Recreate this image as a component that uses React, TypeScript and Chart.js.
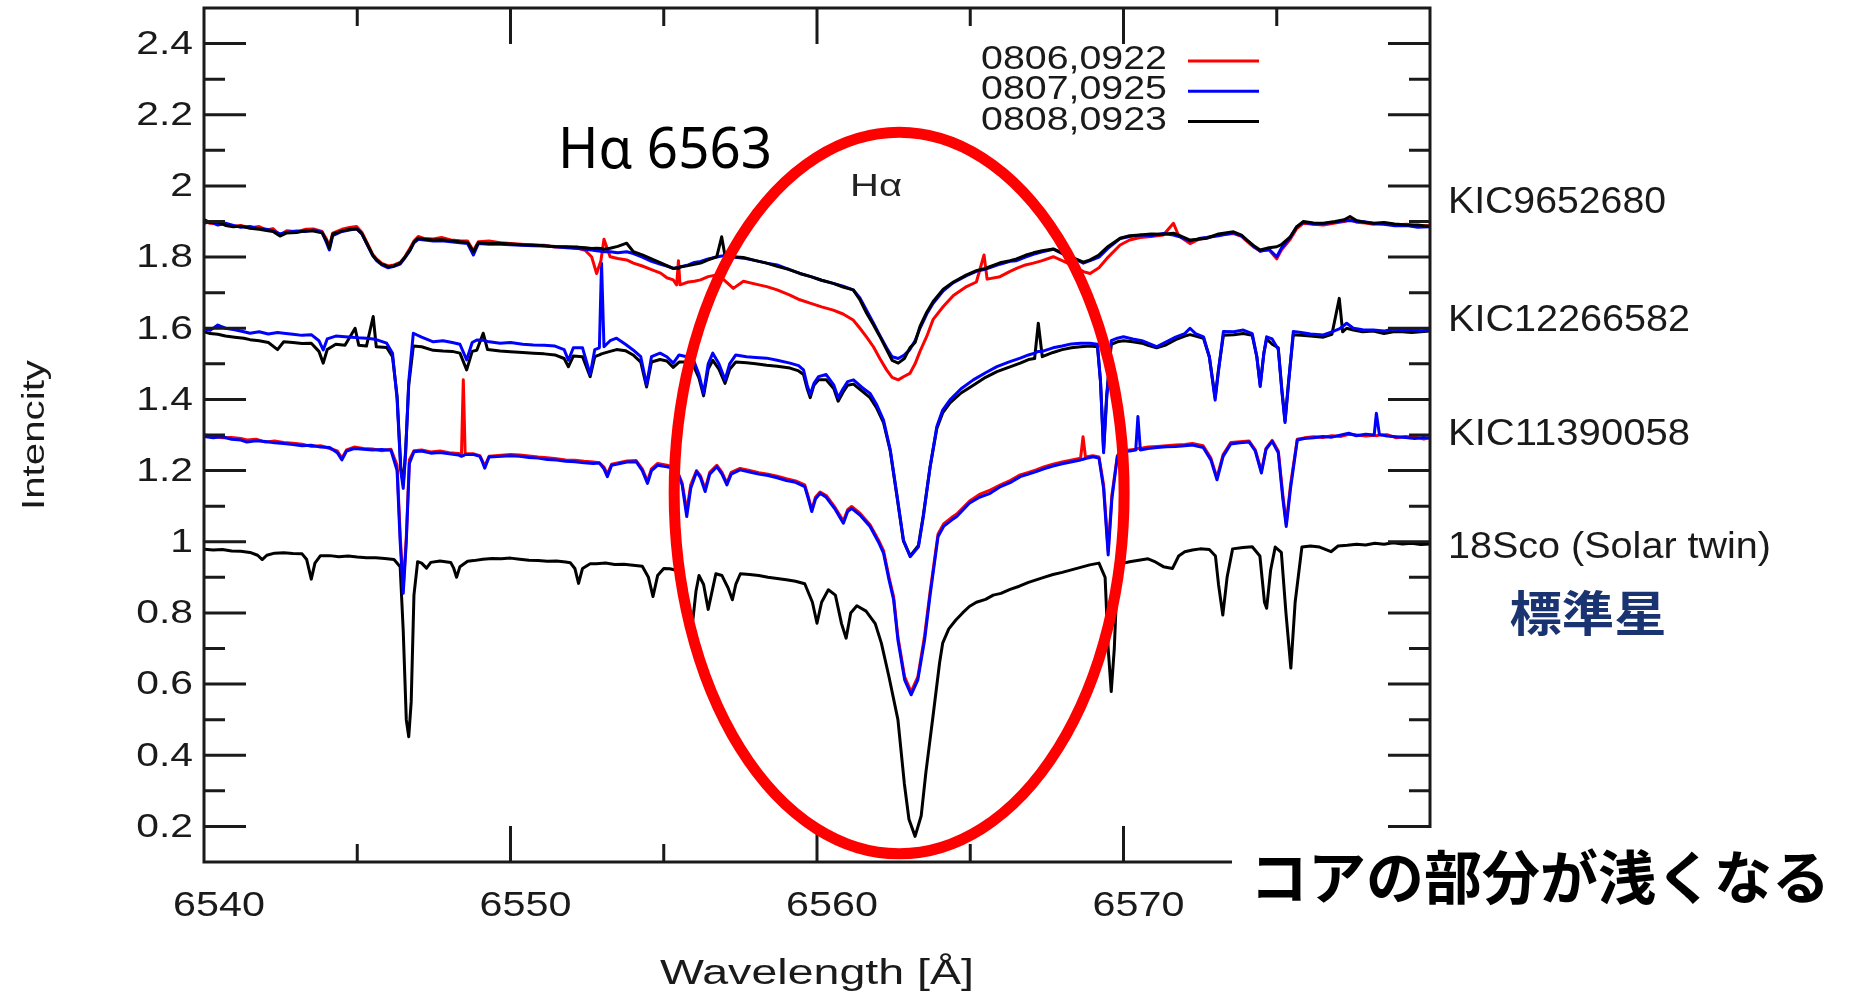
import React, { useEffect, useRef } from 'react';
import { Chart, registerables } from 'chart.js';

Chart.register(...registerables);

const CANVAS_W = 1849;
const CANVAS_H = 997;

// ---------------- data: KIC9652680 (three epochs) ----------------
const kic965Wave = [
  6540.0, 6540.2, 6540.45, 6540.7, 6540.96, 6541.2, 6541.5, 6541.8, 6542.04, 6542.25,
  6542.48, 6542.7, 6543.02, 6543.3, 6543.57, 6543.85, 6544.0, 6544.09, 6544.2, 6544.5,
  6544.75, 6544.98, 6545.15, 6545.31, 6545.5, 6545.63, 6545.8, 6546.01, 6546.2, 6546.4,
  6546.55, 6546.72, 6546.85, 6546.99, 6547.2, 6547.48, 6547.75, 6548.05, 6548.35, 6548.6,
  6548.79, 6548.95, 6549.3, 6549.66, 6550.0, 6550.35, 6550.75, 6551.1, 6551.45, 6551.83,
  6552.2, 6552.45, 6552.65, 6552.81, 6552.95, 6553.05, 6553.25, 6553.5, 6553.79, 6554.01,
  6554.3, 6554.6, 6554.9, 6555.1, 6555.31, 6555.42, 6555.48, 6555.53, 6555.8, 6556.0,
  6556.2, 6556.45, 6556.73, 6556.89, 6557.0, 6557.27, 6557.6, 6558.0, 6558.36, 6558.7,
  6559.1, 6559.44, 6559.8, 6560.15, 6560.53, 6560.85, 6561.18, 6561.4, 6561.62, 6561.84,
  6562.05, 6562.27, 6562.45, 6562.65, 6562.85, 6563.03, 6563.2, 6563.36, 6563.58, 6563.79,
  6564.12, 6564.45, 6564.88, 6565.2, 6565.45, 6565.55, 6565.97, 6566.3, 6566.51, 6566.8,
  6567.06, 6567.35, 6567.71, 6568.0, 6568.3, 6568.69, 6568.91, 6569.2, 6569.5, 6569.89,
  6570.2, 6570.54, 6570.9, 6571.3, 6571.63, 6571.8, 6572.17, 6572.45, 6572.72, 6573.1,
  6573.59, 6573.85, 6574.02, 6574.25, 6574.46, 6574.75, 6575.0, 6575.15, 6575.44, 6575.65,
  6575.87, 6576.2, 6576.52, 6576.9, 6577.2, 6577.39, 6577.6, 6577.9, 6578.15, 6578.5,
  6578.85, 6579.24, 6579.6, 6580.0,
];
const kic965Red = [
  1.900, 1.895, 1.893, 1.892, 1.887, 1.889, 1.882, 1.886, 1.876, 1.880,
  1.862, 1.874, 1.871, 1.878, 1.879, 1.872, 1.850, 1.830, 1.867, 1.878,
  1.883, 1.886, 1.870, 1.842, 1.808, 1.795, 1.782, 1.775, 1.778, 1.785,
  1.800, 1.825, 1.845, 1.858, 1.852, 1.851, 1.855, 1.848, 1.846, 1.845,
  1.818, 1.843, 1.845, 1.840, 1.838, 1.836, 1.834, 1.833, 1.828, 1.828,
  1.825, 1.818, 1.800, 1.754, 1.790, 1.850, 1.801, 1.796, 1.792, 1.783,
  1.775, 1.765, 1.755, 1.742, 1.736, 1.722, 1.790, 1.722, 1.730, 1.732,
  1.736, 1.745, 1.750, 1.742, 1.733, 1.712, 1.732, 1.724, 1.717, 1.708,
  1.694, 1.680, 1.670, 1.660, 1.651, 1.640, 1.623, 1.600, 1.575, 1.548,
  1.515, 1.483, 1.462, 1.455, 1.465, 1.473, 1.500, 1.535, 1.577, 1.625,
  1.661, 1.692, 1.717, 1.730, 1.806, 1.738, 1.745, 1.760, 1.768, 1.778,
  1.783, 1.790, 1.801, 1.790, 1.778, 1.759, 1.754, 1.770, 1.800, 1.834,
  1.848, 1.855, 1.858, 1.862, 1.895, 1.860, 1.838, 1.850, 1.855, 1.862,
  1.866, 1.858, 1.845, 1.828, 1.818, 1.820, 1.795, 1.820, 1.850, 1.880,
  1.895, 1.892, 1.890, 1.896, 1.900, 1.905, 1.898, 1.896, 1.892, 1.894,
  1.890, 1.892, 1.887, 1.889,
];
const kic965Blue = [
  1.895, 1.900, 1.890, 1.895, 1.889, 1.884, 1.886, 1.880, 1.878, 1.874,
  1.865, 1.870, 1.873, 1.872, 1.876, 1.870, 1.840, 1.820, 1.860, 1.872,
  1.876, 1.880, 1.865, 1.837, 1.805, 1.790, 1.778, 1.770, 1.774, 1.780,
  1.797, 1.818, 1.840, 1.850, 1.848, 1.845, 1.846, 1.843, 1.840, 1.838,
  1.806, 1.838, 1.836, 1.836, 1.835, 1.833, 1.832, 1.831, 1.829, 1.826,
  1.824, 1.822, 1.820, 1.818, 1.816, 1.815, 1.815, 1.812, 1.815, 1.810,
  1.800, 1.788, 1.780, 1.775, 1.768, 1.769, 1.770, 1.772, 1.778, 1.785,
  1.788, 1.795, 1.800, 1.803, 1.804, 1.800, 1.797, 1.790, 1.783, 1.778,
  1.765, 1.754, 1.745, 1.735, 1.726, 1.718, 1.708, 1.685, 1.650, 1.615,
  1.580, 1.545, 1.520, 1.515, 1.525, 1.540, 1.565, 1.600, 1.640, 1.670,
  1.705, 1.728, 1.748, 1.760, 1.765, 1.768, 1.780, 1.788, 1.790, 1.800,
  1.808, 1.815, 1.822, 1.810, 1.800, 1.783, 1.790, 1.800, 1.825, 1.852,
  1.858, 1.862, 1.860, 1.866, 1.862, 1.858, 1.845, 1.852, 1.855, 1.860,
  1.868, 1.860, 1.848, 1.830, 1.816, 1.822, 1.801, 1.825, 1.855, 1.885,
  1.898, 1.893, 1.894, 1.898, 1.902, 1.903, 1.900, 1.899, 1.895, 1.892,
  1.888, 1.889, 1.884, 1.885,
];
const kic965Black = [
  1.905, 1.897, 1.899, 1.889, 1.885, 1.887, 1.881, 1.878, 1.875, 1.872,
  1.859, 1.868, 1.869, 1.874, 1.873, 1.868, 1.845, 1.825, 1.865, 1.873,
  1.878, 1.879, 1.866, 1.839, 1.806, 1.792, 1.780, 1.773, 1.775, 1.783,
  1.799, 1.820, 1.842, 1.853, 1.850, 1.848, 1.849, 1.846, 1.843, 1.841,
  1.815, 1.840, 1.838, 1.839, 1.837, 1.835, 1.834, 1.832, 1.830, 1.829,
  1.828, 1.826, 1.824, 1.825, 1.824, 1.822, 1.825, 1.830, 1.839, 1.815,
  1.806, 1.795, 1.784, 1.776, 1.768, 1.770, 1.768, 1.772, 1.776, 1.780,
  1.783, 1.792, 1.801, 1.857, 1.803, 1.801, 1.799, 1.790, 1.783, 1.774,
  1.765, 1.754, 1.745, 1.735, 1.726, 1.716, 1.708, 1.680, 1.642, 1.610,
  1.577, 1.540, 1.510, 1.502, 1.515, 1.545, 1.560, 1.605, 1.645, 1.675,
  1.710, 1.730, 1.750, 1.762, 1.767, 1.770, 1.784, 1.790, 1.795, 1.805,
  1.812, 1.818, 1.823, 1.812, 1.800, 1.786, 1.792, 1.806, 1.830, 1.853,
  1.860, 1.862, 1.865, 1.864, 1.867, 1.862, 1.848, 1.850, 1.853, 1.865,
  1.871, 1.862, 1.848, 1.832, 1.820, 1.826, 1.829, 1.835, 1.857, 1.885,
  1.900, 1.896, 1.895, 1.900, 1.905, 1.914, 1.903, 1.897, 1.895, 1.897,
  1.893, 1.890, 1.890, 1.886,
];

// ---------------- data: KIC12266582 ----------------
const kic122Wave = [
  6540.0, 6540.2, 6540.45, 6540.7, 6541.0, 6541.3, 6541.5, 6541.8, 6542.1, 6542.4,
  6542.6, 6542.9, 6543.2, 6543.5, 6543.75, 6543.89, 6544.02, 6544.3, 6544.6, 6544.93,
  6545.05, 6545.3, 6545.52, 6545.62, 6545.96, 6546.15, 6546.3, 6546.42, 6546.5, 6546.58,
  6546.68, 6546.83, 6547.1, 6547.48, 6547.8, 6548.1, 6548.35, 6548.57, 6548.75, 6548.9,
  6549.11, 6549.25, 6549.66, 6550.0, 6550.4, 6550.75, 6551.1, 6551.45, 6551.75, 6551.89,
  6552.05, 6552.35, 6552.6, 6552.75, 6552.9, 6552.97, 6553.05, 6553.25, 6553.46, 6553.75,
  6554.0, 6554.25, 6554.44, 6554.6, 6554.88, 6555.1, 6555.31, 6555.5, 6555.75, 6555.97,
  6556.15, 6556.3, 6556.45, 6556.6, 6556.8, 6557.0, 6557.15, 6557.35, 6557.7, 6558.0,
  6558.36, 6558.7, 6559.12, 6559.4, 6559.56, 6559.68, 6559.78, 6559.9, 6560.05, 6560.3,
  6560.55, 6560.69, 6560.85, 6561.0, 6561.19, 6561.45, 6561.73, 6561.95, 6562.17, 6562.39,
  6562.6, 6562.82, 6563.04, 6563.31, 6563.47, 6563.69, 6563.91, 6564.1, 6564.34, 6564.7,
  6565.1, 6565.5, 6565.87, 6566.25, 6566.63, 6566.9, 6567.1, 6567.22, 6567.35, 6567.7,
  6568.0, 6568.3, 6568.6, 6568.91, 6569.15, 6569.25, 6569.35, 6569.45, 6569.6, 6569.8,
  6570.0, 6570.3, 6570.6, 6570.8, 6571.08, 6571.35, 6571.7, 6572.0, 6572.17, 6572.35,
  6572.61, 6572.8, 6572.99, 6573.1, 6573.26, 6573.6, 6573.91, 6574.2, 6574.35, 6574.46,
  6574.58, 6574.67, 6574.85, 6575.05, 6575.17, 6575.27, 6575.38, 6575.54, 6575.8, 6576.1,
  6576.52, 6576.8, 6577.04, 6577.15, 6577.28, 6577.5, 6577.8, 6578.15, 6578.5, 6578.8,
  6579.1, 6579.4, 6579.7, 6580.0,
];
const kic122Blue = [
  1.598, 1.594, 1.609, 1.600, 1.596, 1.590, 1.586, 1.590, 1.584, 1.588,
  1.586, 1.583, 1.580, 1.582, 1.565, 1.539, 1.570, 1.578, 1.576, 1.574,
  1.573, 1.572, 1.570, 1.568, 1.558, 1.530, 1.400, 1.200, 1.150, 1.250,
  1.450, 1.586, 1.575, 1.562, 1.565, 1.560, 1.555, 1.511, 1.560, 1.567,
  1.566, 1.563, 1.558, 1.560, 1.555, 1.553, 1.552, 1.550, 1.540, 1.510,
  1.545, 1.545, 1.470, 1.540, 1.545, 1.783, 1.548, 1.565, 1.572, 1.555,
  1.539, 1.520, 1.441, 1.520, 1.530, 1.520, 1.502, 1.525, 1.520, 1.511,
  1.470, 1.417, 1.500, 1.530, 1.500, 1.455, 1.500, 1.525, 1.520, 1.518,
  1.516, 1.510, 1.502, 1.495, 1.483, 1.440, 1.413, 1.445, 1.464, 1.470,
  1.440, 1.405, 1.430, 1.450, 1.455, 1.435, 1.417, 1.385, 1.342, 1.258,
  1.136, 1.005, 0.958, 0.986, 1.071, 1.211, 1.324, 1.370, 1.399, 1.430,
  1.455, 1.475, 1.492, 1.505, 1.516, 1.525, 1.530, 1.535, 1.535, 1.545,
  1.550, 1.556, 1.558, 1.558, 1.555, 1.450, 1.250, 1.400, 1.565, 1.572,
  1.576, 1.570, 1.565, 1.558, 1.548, 1.560, 1.575, 1.585, 1.600, 1.585,
  1.576, 1.520, 1.398, 1.480, 1.591, 1.590, 1.595, 1.585, 1.520, 1.436,
  1.530, 1.576, 1.570, 1.540, 1.420, 1.335, 1.440, 1.591, 1.588, 1.584,
  1.581, 1.590, 1.598, 1.605, 1.614, 1.600, 1.596, 1.595, 1.592, 1.598,
  1.594, 1.597, 1.592, 1.595,
];
const kic122Black = [
  1.590, 1.585, 1.583, 1.578, 1.575, 1.572, 1.568, 1.565, 1.560, 1.540,
  1.562, 1.560, 1.557, 1.558, 1.535, 1.502, 1.540, 1.555, 1.552, 1.600,
  1.552, 1.550, 1.633, 1.548, 1.546, 1.520, 1.410, 1.210, 1.160, 1.260,
  1.440, 1.550, 1.548, 1.538, 1.536, 1.535, 1.530, 1.483, 1.535, 1.538,
  1.586, 1.540, 1.536, 1.534, 1.532, 1.530, 1.528, 1.525, 1.515, 1.492,
  1.522, 1.520, 1.464, 1.520, 1.525, 1.528, 1.530, 1.535, 1.540, 1.537,
  1.525, 1.505, 1.435, 1.505, 1.512, 1.508, 1.490, 1.505, 1.505, 1.495,
  1.460, 1.410, 1.485, 1.510, 1.485, 1.445, 1.485, 1.505, 1.503, 1.500,
  1.496, 1.493, 1.488, 1.480, 1.470, 1.430, 1.405, 1.440, 1.455, 1.455,
  1.430, 1.395, 1.420, 1.440, 1.443, 1.425, 1.405, 1.375, 1.335, 1.255,
  1.133, 1.002, 0.960, 0.990, 1.075, 1.210, 1.318, 1.362, 1.390, 1.418,
  1.440, 1.462, 1.478, 1.490, 1.502, 1.512, 1.515, 1.614, 1.520, 1.532,
  1.540, 1.545, 1.548, 1.550, 1.548, 1.450, 1.260, 1.410, 1.555, 1.562,
  1.565, 1.562, 1.558, 1.552, 1.545, 1.552, 1.568, 1.578, 1.582, 1.578,
  1.572, 1.520, 1.405, 1.485, 1.580, 1.582, 1.585, 1.580, 1.520, 1.440,
  1.530, 1.570, 1.555, 1.545, 1.425, 1.340, 1.445, 1.582, 1.580, 1.578,
  1.575, 1.583, 1.684, 1.590, 1.600, 1.595, 1.590, 1.592, 1.585, 1.590,
  1.590, 1.588, 1.590, 1.592,
];

// ---------------- data: KIC11390058 ----------------
const kic113Wave = [
  6540.0, 6540.3, 6540.6, 6540.9, 6541.2, 6541.4, 6541.7, 6542.0, 6542.3, 6542.6,
  6542.9, 6543.2, 6543.5, 6543.8, 6544.1, 6544.35, 6544.5, 6544.65, 6544.9, 6545.2,
  6545.5, 6545.8, 6546.1, 6546.3, 6546.4, 6546.5, 6546.6, 6546.7, 6546.85, 6547.1,
  6547.4, 6547.7, 6548.0, 6548.3, 6548.4, 6548.46, 6548.52, 6548.8, 6549.0, 6549.08,
  6549.16, 6549.3, 6550.0, 6550.3, 6550.6, 6550.9, 6551.2, 6551.5, 6551.8, 6552.1,
  6552.4, 6552.7, 6552.9, 6553.05, 6553.16, 6553.3, 6553.8, 6554.1, 6554.3, 6554.47,
  6554.6, 6554.8, 6555.1, 6555.4, 6555.6, 6555.75, 6555.88, 6556.07, 6556.2, 6556.35,
  6556.5, 6556.73, 6556.9, 6557.06, 6557.2, 6557.49, 6557.8, 6558.1, 6558.4, 6558.7,
  6559.0, 6559.3, 6559.6, 6559.72, 6559.83, 6559.95, 6560.1, 6560.3, 6560.6, 6560.86,
  6561.0, 6561.13, 6561.4, 6561.73, 6562.0, 6562.17, 6562.35, 6562.5, 6562.64, 6562.86,
  6563.07, 6563.29, 6563.51, 6563.69, 6563.95, 6564.13, 6564.39, 6564.56, 6564.97, 6565.3,
  6565.65, 6565.99, 6566.3, 6566.63, 6566.9, 6567.15, 6567.4, 6567.7, 6568.0, 6568.32,
  6568.6, 6568.68, 6568.76, 6569.0, 6569.2, 6569.35, 6569.5, 6569.62, 6569.8, 6569.92,
  6570.2, 6570.4, 6570.47, 6570.55, 6570.8, 6571.1, 6571.4, 6571.7, 6572.0, 6572.25,
  6572.6, 6572.85, 6573.05, 6573.25, 6573.5, 6573.8, 6574.1, 6574.3, 6574.5, 6574.65,
  6574.85, 6575.05, 6575.2, 6575.31, 6575.45, 6575.67, 6575.9, 6576.2, 6576.5, 6576.8,
  6577.1, 6577.35, 6577.6, 6577.9, 6578.18, 6578.25, 6578.35, 6578.6, 6578.9, 6579.2,
  6579.5, 6579.8, 6580.0,
];
const kic113Blue = [
  1.296, 1.292, 1.295, 1.288, 1.286, 1.280, 1.284, 1.282, 1.278, 1.276,
  1.273, 1.270, 1.271, 1.266, 1.265, 1.250, 1.230, 1.255, 1.262, 1.260,
  1.258, 1.259, 1.257, 1.200, 1.000, 0.855, 1.000, 1.220, 1.253, 1.255,
  1.249, 1.251, 1.247, 1.244, 1.240, 1.242, 1.245, 1.245, 1.240, 1.225,
  1.207, 1.238, 1.242, 1.240, 1.237, 1.235, 1.231, 1.230, 1.226, 1.225,
  1.222, 1.220, 1.221, 1.205, 1.183, 1.215, 1.224, 1.225, 1.200, 1.164,
  1.200, 1.215, 1.211, 1.205, 1.160, 1.071, 1.150, 1.197, 1.180, 1.141,
  1.190, 1.211, 1.190, 1.160, 1.190, 1.202, 1.196, 1.190, 1.186, 1.180,
  1.172, 1.167, 1.155, 1.120, 1.085, 1.120, 1.136, 1.125, 1.090, 1.052,
  1.085, 1.094, 1.075, 1.043, 1.000, 0.968, 0.893, 0.837, 0.724, 0.612,
  0.570, 0.612, 0.724, 0.850, 1.015, 1.043, 1.061, 1.071, 1.108, 1.125,
  1.136, 1.155, 1.166, 1.183, 1.190, 1.197, 1.205, 1.213, 1.219, 1.225,
  1.230, 1.232, 1.234, 1.239, 1.235, 1.150, 0.963, 1.120, 1.240, 1.253,
  1.255, 1.258, 1.352, 1.258, 1.262, 1.265, 1.267, 1.268, 1.270, 1.272,
  1.265, 1.230, 1.174, 1.240, 1.275, 1.278, 1.280, 1.255, 1.193, 1.260,
  1.282, 1.250, 1.120, 1.043, 1.150, 1.286, 1.290, 1.292, 1.296, 1.294,
  1.300, 1.305, 1.298, 1.302, 1.300, 1.361, 1.301, 1.297, 1.295, 1.293,
  1.290, 1.293, 1.291,
];
const kic113Red = [
  1.300, 1.297, 1.292, 1.293, 1.290, 1.286, 1.288, 1.280, 1.283, 1.279,
  1.277, 1.274, 1.268, 1.270, 1.262, 1.255, 1.235, 1.258, 1.266, 1.262,
  1.261, 1.256, 1.260, 1.215, 1.020, 0.870, 1.010, 1.230, 1.256, 1.258,
  1.252, 1.255, 1.250, 1.248, 1.246, 1.455, 1.248, 1.247, 1.242, 1.228,
  1.212, 1.240, 1.245, 1.244, 1.241, 1.238, 1.236, 1.233, 1.230, 1.229,
  1.226, 1.224, 1.222, 1.210, 1.190, 1.218, 1.227, 1.228, 1.205, 1.170,
  1.205, 1.220, 1.215, 1.208, 1.165, 1.085, 1.160, 1.200, 1.185, 1.148,
  1.195, 1.215, 1.195, 1.165, 1.195, 1.206, 1.200, 1.194, 1.190, 1.184,
  1.177, 1.171, 1.160, 1.125, 1.090, 1.125, 1.140, 1.130, 1.095, 1.058,
  1.090, 1.099, 1.080, 1.048, 1.006, 0.975, 0.900, 0.845, 0.732, 0.620,
  0.578, 0.620, 0.735, 0.860, 1.022, 1.050, 1.068, 1.078, 1.114, 1.133,
  1.145, 1.160, 1.172, 1.188, 1.195, 1.202, 1.210, 1.218, 1.224, 1.230,
  1.235, 1.295, 1.238, 1.242, 1.238, 1.160, 0.975, 1.130, 1.242, 1.255,
  1.258, 1.260, 1.262, 1.262, 1.266, 1.268, 1.270, 1.272, 1.273, 1.276,
  1.270, 1.235, 1.180, 1.245, 1.279, 1.281, 1.283, 1.258, 1.198, 1.262,
  1.285, 1.255, 1.130, 1.050, 1.160, 1.288, 1.292, 1.295, 1.293, 1.298,
  1.296, 1.302, 1.300, 1.297, 1.299, 1.298, 1.300, 1.301, 1.292, 1.296,
  1.294, 1.289, 1.293,
];

// ---------------- data: 18Sco (solar twin) ----------------
const sco18Wave = [
  6540.0, 6540.3, 6540.6, 6540.9, 6541.2, 6541.5, 6541.75, 6541.9, 6542.05, 6542.3,
  6542.6, 6542.9, 6543.2, 6543.35, 6543.5, 6543.62, 6543.8, 6544.1, 6544.4, 6544.7,
  6545.0, 6545.3, 6545.6, 6545.9, 6546.2, 6546.4, 6546.5, 6546.6, 6546.68, 6546.76,
  6546.85, 6546.97, 6547.1, 6547.26, 6547.4, 6547.7, 6548.05, 6548.15, 6548.24, 6548.35,
  6548.6, 6548.8, 6549.1, 6549.4, 6549.7, 6550.0, 6550.3, 6550.6, 6550.9, 6551.2,
  6551.5, 6551.8, 6551.95, 6552.1, 6552.22, 6552.35, 6552.6, 6552.8, 6553.1, 6553.4,
  6553.7, 6554.0, 6554.3, 6554.5, 6554.65, 6554.8, 6555.0, 6555.2, 6555.5, 6555.7,
  6555.85, 6555.95, 6556.05, 6556.15, 6556.3, 6556.45, 6556.55, 6556.7, 6556.9, 6557.1,
  6557.24, 6557.35, 6557.5, 6557.8, 6558.1, 6558.4, 6558.7, 6559.0, 6559.3, 6559.6,
  6559.85, 6560.0, 6560.15, 6560.37, 6560.6, 6560.8, 6560.95, 6561.1, 6561.3, 6561.6,
  6561.9, 6562.1, 6562.35, 6562.64, 6562.85, 6563.0, 6563.2, 6563.4, 6563.55, 6563.8,
  6564.0, 6564.1, 6564.3, 6564.53, 6564.75, 6564.97, 6565.2, 6565.5, 6565.75, 6566.0,
  6566.3, 6566.6, 6566.9, 6567.15, 6567.4, 6567.7, 6568.0, 6568.3, 6568.6, 6568.9,
  6569.2, 6569.4, 6569.5, 6569.6, 6569.7, 6569.8, 6570.0, 6570.2, 6570.5, 6570.8,
  6571.0, 6571.3, 6571.6, 6571.8, 6572.0, 6572.25, 6572.5, 6572.8, 6573.0, 6573.1,
  6573.24, 6573.38, 6573.56, 6573.9, 6574.2, 6574.45, 6574.6, 6574.67, 6574.8, 6574.95,
  6575.15, 6575.3, 6575.46, 6575.6, 6575.82, 6576.1, 6576.4, 6576.77, 6577.0, 6577.3,
  6577.6, 6577.9, 6578.2, 6578.5, 6578.8, 6579.1, 6579.4, 6579.7, 6580.0,
];
const sco18Black = [
  0.979, 0.977, 0.978, 0.974, 0.973, 0.970, 0.962, 0.950, 0.962, 0.968,
  0.969, 0.967, 0.966, 0.950, 0.895, 0.940, 0.961, 0.961, 0.958, 0.960,
  0.957, 0.955, 0.955, 0.953, 0.950, 0.930, 0.750, 0.500, 0.452, 0.550,
  0.850, 0.944, 0.940, 0.926, 0.942, 0.946, 0.942, 0.925, 0.900, 0.930,
  0.945, 0.947, 0.951, 0.953, 0.952, 0.954, 0.951, 0.948, 0.947, 0.945,
  0.946, 0.943, 0.941, 0.925, 0.883, 0.925, 0.938, 0.938, 0.940, 0.936,
  0.937, 0.934, 0.931, 0.900, 0.846, 0.905, 0.925, 0.924, 0.918, 0.880,
  0.790, 0.780, 0.860, 0.905, 0.880, 0.810, 0.850, 0.910, 0.905, 0.870,
  0.837, 0.880, 0.910, 0.908, 0.905, 0.900, 0.897, 0.893, 0.889, 0.882,
  0.830, 0.771, 0.830, 0.865, 0.850, 0.770, 0.729, 0.800, 0.820, 0.805,
  0.770, 0.715, 0.620, 0.500, 0.320, 0.220, 0.172, 0.230, 0.350, 0.520,
  0.660, 0.715, 0.755, 0.780, 0.800, 0.818, 0.830, 0.838, 0.850, 0.855,
  0.866, 0.875, 0.886, 0.893, 0.900, 0.908, 0.914, 0.921, 0.928, 0.935,
  0.940, 0.900, 0.700, 0.579, 0.700, 0.910, 0.940, 0.944, 0.948, 0.952,
  0.945, 0.930, 0.925, 0.960, 0.972, 0.977, 0.980, 0.978, 0.960, 0.880,
  0.794, 0.900, 0.980, 0.984, 0.986, 0.960, 0.830, 0.813, 0.920, 0.985,
  0.970, 0.800, 0.645, 0.830, 0.985, 0.988, 0.985, 0.972, 0.988, 0.990,
  0.993, 0.991, 0.996, 0.993, 0.997, 0.994, 0.996, 0.992, 0.994,
];

// ---------------- ticks & text ----------------
const xTickValues = [6540, 6550, 6560, 6570];
const xMinorValues = [6545, 6555, 6565, 6575];
const yTickValues = [0.2, 0.4, 0.6, 0.8, 1, 1.2, 1.4, 1.6, 1.8, 2, 2.2, 2.4];
const yMinorValues = [0.3, 0.5, 0.7, 0.9, 1.1, 1.3, 1.5, 1.7, 1.9, 2.1, 2.3];
const legendLabels = ['0806,0922', '0807,0925', '0808,0923'];
const starNames = ['KIC9652680', 'KIC12266582', 'KIC11390058', '18Sco (Solar twin)'];
const xTitle = 'Wavelength [Å]';
const yTitle = 'Intencity';
const haMarkText = 'Hα 6563';
const haLabelText = 'Hα';
const refStarText = '標準星';
const noteText = 'コアの部分が浅くなる';

// annotation ellipse around H-alpha, in data units
const haEllipse = { cx: 6562.68, cy: 1.137, rx: 7.34, ry: 1.014 };

// ---------------- styles / layout ----------------
const RED = '#ff0000';
const BLUE = '#0000ff';
const BLACK = '#000000';
const INK = '#1a1a1a';
const NAVY = '#1a3472';
const SANS = '"Liberation Sans", Arial, Helvetica, sans-serif';
const AREA = { left: 204, right: 1430, top: 8, bottom: 862 };
const LEGEND_COLORS = [RED, BLUE, BLACK];
const STAR_LABEL_Y = [203, 321, 435, 548];
const STAR_LABEL_W = [218, 242, 242, 323];
const SERIES_LINE_WIDTH = 3;

function textAt(
  ctx: CanvasRenderingContext2D,
  text: string,
  x: number,
  y: number,
  font: string,
  color: string,
  align: CanvasTextAlign,
  sx: number,
  width?: number,
  rot = 0
) {
  ctx.save();
  ctx.font = font;
  ctx.fillStyle = color;
  ctx.textBaseline = 'middle';
  ctx.textAlign = align;
  let s = sx;
  if (width) s = width / ctx.measureText(text).width;
  ctx.translate(x, y);
  if (rot) ctx.rotate(rot);
  ctx.scale(s, 1);
  ctx.fillText(text, 0, 0);
  ctx.restore();
}

const decorPlugin = {
  id: 'decor',
  beforeDraw(chart: any) {
    const ctx = chart.ctx as CanvasRenderingContext2D;
    ctx.save();
    ctx.fillStyle = '#ffffff';
    ctx.fillRect(0, 0, chart.width, chart.height);
    ctx.restore();
  },
  afterDatasetsDraw(chart: any) {
    const ctx = chart.ctx as CanvasRenderingContext2D;
    const a = chart.chartArea;
    const xs = chart.scales.x;
    const ys = chart.scales.y;

    // frame + ticks
    ctx.save();
    ctx.strokeStyle = INK;
    ctx.lineWidth = 3;
    ctx.strokeRect(a.left, a.top, a.right - a.left, a.bottom - a.top);
    ctx.beginPath();
    yTickValues.forEach((v) => {
      const p = ys.getPixelForValue(v);
      ctx.moveTo(a.left, p); ctx.lineTo(a.left + 42, p);
      ctx.moveTo(a.right - 42, p); ctx.lineTo(a.right, p);
    });
    yMinorValues.forEach((v) => {
      const p = ys.getPixelForValue(v);
      ctx.moveTo(a.left, p); ctx.lineTo(a.left + 21, p);
      ctx.moveTo(a.right - 21, p); ctx.lineTo(a.right, p);
    });
    xTickValues.forEach((v) => {
      if (v <= 6540) return;
      const p = xs.getPixelForValue(v);
      ctx.moveTo(p, a.bottom); ctx.lineTo(p, a.bottom - 36);
      ctx.moveTo(p, a.top); ctx.lineTo(p, a.top + 36);
    });
    xMinorValues.forEach((v) => {
      const p = xs.getPixelForValue(v);
      ctx.moveTo(p, a.bottom); ctx.lineTo(p, a.bottom - 18);
      ctx.moveTo(p, a.top); ctx.lineTo(p, a.top + 18);
    });
    ctx.stroke();
    ctx.restore();

    // tick labels
    yTickValues.forEach((v) => {
      textAt(ctx, String(v), a.left - 11, ys.getPixelForValue(v) + 1, `34px ${SANS}`, INK, 'right', 1.2);
    });
    xTickValues.forEach((v) => {
      textAt(ctx, String(v), xs.getPixelForValue(v) + 15, a.bottom + 44, `35px ${SANS}`, INK, 'center', 1.18);
    });

    // axis titles
    textAt(ctx, xTitle, (a.left + a.right) / 2, a.bottom + 112, `35px ${SANS}`, INK, 'center', 1, 314);
    textAt(ctx, yTitle, 35, (a.top + a.bottom) / 2, `32px ${SANS}`, INK, 'center', 1, 150, -Math.PI / 2);

    // legend
    legendLabels.forEach((lab, i) => {
      const yy = a.top + 52 + i * 30.3;
      textAt(ctx, lab, 1167, yy, `33px ${SANS}`, INK, 'right', 1, 186);
      ctx.save();
      ctx.strokeStyle = LEGEND_COLORS[i];
      ctx.lineWidth = 3;
      ctx.beginPath();
      ctx.moveTo(1188, yy + 1);
      ctx.lineTo(1259, yy + 1);
      ctx.stroke();
      ctx.restore();
    });

    // star labels
    starNames.forEach((name, i) => {
      textAt(ctx, name, a.right + 18, STAR_LABEL_Y[i], `37px ${SANS}`, INK, 'left', 1, STAR_LABEL_W[i]);
    });

    // H-alpha ellipse
    const cx = xs.getPixelForValue(haEllipse.cx);
    const cy = ys.getPixelForValue(haEllipse.cy);
    const rx = xs.getPixelForValue(haEllipse.cx + haEllipse.rx) - cx;
    const ry = cy - ys.getPixelForValue(haEllipse.cy + haEllipse.ry);
    ctx.save();
    ctx.strokeStyle = RED;
    ctx.lineWidth = 11;
    ctx.beginPath();
    ctx.ellipse(cx, cy, rx, ry, 0, 0, Math.PI * 2);
    ctx.stroke();
    ctx.restore();

    // annotations
    textAt(ctx, haMarkText, 558, 152, `56px "Noto Sans", "Open Sans", sans-serif`, '#000', 'left', 1, 214);
    textAt(ctx, haLabelText, 850, 187, `31px ${SANS}`, '#222', 'left', 1, 52);
    textAt(ctx, refStarText, 1588, 613, `bold 48px "Noto Sans CJK JP", sans-serif`, NAVY, 'center', 1, 157);

    ctx.save();
    ctx.fillStyle = '#ffffff';
    ctx.fillRect(1232, 828, chart.width - 1232, 107);
    ctx.restore();
    textAt(ctx, noteText, 1250, 877, `bold 58px "Noto Sans CJK JP", sans-serif`, '#000', 'left', 1, 580);
  },
};

function pts(xs: number[], ys: number[]) {
  const n = Math.min(xs.length, ys.length);
  const out: { x: number; y: number }[] = [];
  for (let i = 0; i < n; i++) out.push({ x: xs[i], y: ys[i] });
  return out;
}

export default function App() {
  const canvasRef = useRef<HTMLCanvasElement | null>(null);

  useEffect(() => {
    const canvas = canvasRef.current;
    if (!canvas) return;
    const mk = (label: string, data: any[], color: string) => ({
      label,
      data,
      borderColor: color,
      backgroundColor: color,
      borderWidth: SERIES_LINE_WIDTH,
      pointRadius: 0,
      tension: 0,
      fill: false,
      borderJoinStyle: 'round' as const,
    });
    const chart = new Chart(canvas, {
      type: 'line',
      data: {
        datasets: [
          mk('KIC9652680 ' + legendLabels[2], pts(kic965Wave, kic965Black), BLACK),
          mk('KIC9652680 ' + legendLabels[1], pts(kic965Wave, kic965Blue), BLUE),
          mk('KIC9652680 ' + legendLabels[0], pts(kic965Wave, kic965Red), RED),
          mk('KIC12266582 ' + legendLabels[1], pts(kic122Wave, kic122Blue), BLUE),
          mk('KIC12266582 ' + legendLabels[2], pts(kic122Wave, kic122Black), BLACK),
          mk('KIC11390058 ' + legendLabels[1], pts(kic113Wave, kic113Blue), BLUE),
          mk('KIC11390058 ' + legendLabels[0], pts(kic113Wave, kic113Red), RED),
          mk('18Sco', pts(sco18Wave, sco18Black), BLACK),
        ],
      },
      options: {
        responsive: false,
        animation: false,
        devicePixelRatio: 1,
        events: [],
        parsing: false,
        normalized: true,
        layout: {
          padding: {
            left: AREA.left,
            right: CANVAS_W - AREA.right,
            top: AREA.top,
            bottom: CANVAS_H - AREA.bottom,
          },
        },
        scales: {
          x: { type: 'linear', min: 6540, max: 6580, display: false },
          y: { type: 'linear', min: 0.1, max: 2.5, display: false },
        },
        plugins: {
          legend: { display: false },
          tooltip: { enabled: false },
          title: { display: false },
        },
      },
      plugins: [decorPlugin],
    } as any);
    if ((document as any).fonts && (document as any).fonts.ready) {
      (document as any).fonts.ready.then(() => {
        try { chart.draw(); } catch (e) { /* ignore */ }
      });
    }
    return () => {
      chart.destroy();
    };
  }, []);

  return (
    <div style={{ position: 'fixed', left: 0, top: 0, width: CANVAS_W, height: CANVAS_H, background: '#fff', overflow: 'hidden' }}>
      <canvas ref={canvasRef} width={CANVAS_W} height={CANVAS_H} style={{ display: 'block', width: CANVAS_W, height: CANVAS_H }} />
    </div>
  );
}
